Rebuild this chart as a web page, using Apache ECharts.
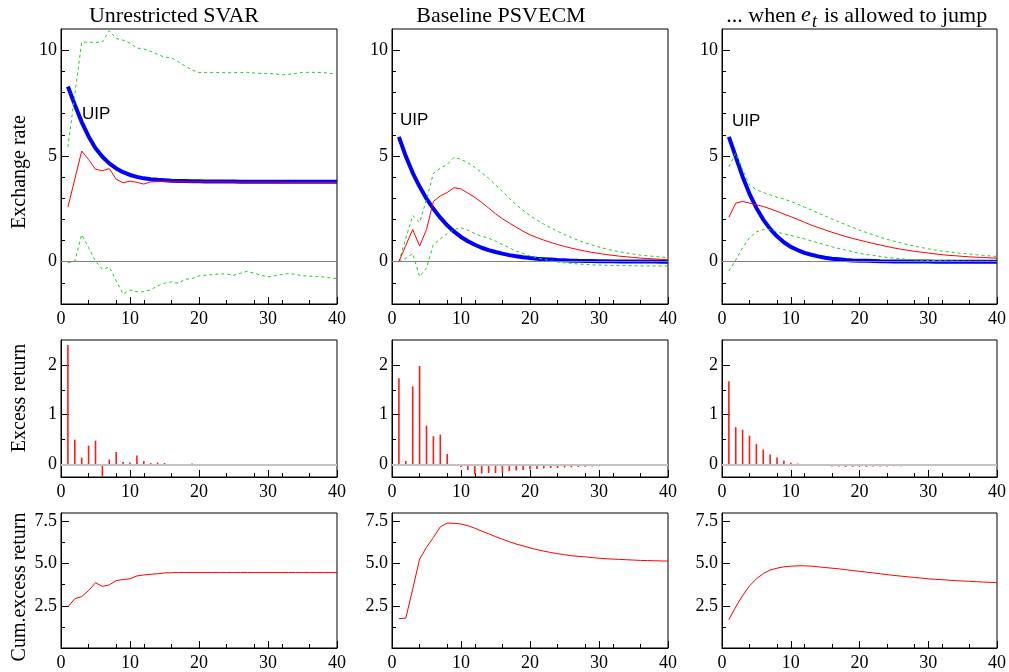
<!DOCTYPE html>
<html><head><meta charset="utf-8">
<script src="https://cdn.jsdelivr.net/npm/echarts@6.0.0/dist/echarts.min.js"></script>
<style>html,body{margin:0;padding:0;background:#fff}#c{width:1009px;height:672px}</style>
</head><body><div id="c"></div>
<script>
// ---------------- data ----------------
const periods = [1,2,3,4,5,6,7,8,9,10,11,12,13,14,15,16,17,18,19,20,21,22,23,24,25,26,27,28,29,30,31,32,33,34,35,36,37,38,39,40];

// Unrestricted SVAR
const svarRate  = [2.58,3.9,5.23,4.83,4.37,4.3,4.4,3.9,3.73,3.81,3.75,3.67,3.77,3.78,3.79,3.78,3.78,3.77,3.77,3.77,3.77,3.77,3.77,3.77,3.76,3.76,3.76,3.76,3.76,3.76,3.76,3.76,3.75,3.75,3.75,3.75,3.75,3.75,3.75,3.75];
const svarUip   = [8.28,7.42,6.6,5.92,5.36,4.96,4.65,4.41,4.23,4.1,4.01,3.94,3.9,3.87,3.85,3.83,3.82,3.81,3.8,3.8,3.79,3.79,3.79,3.79,3.79,3.78,3.78,3.78,3.78,3.78,3.78,3.78,3.78,3.78,3.78,3.78,3.78,3.78,3.78,3.78];
const svarUpper = [5.42,7.9,10.38,10.38,10.36,10.39,10.92,10.55,10.47,10.33,10.1,10.06,9.95,9.8,9.67,9.64,9.45,9.25,9.06,8.94,8.94,8.94,8.94,8.93,8.94,8.94,8.95,8.92,8.9,8.9,8.88,8.83,8.86,8.9,8.95,8.95,8.95,8.94,8.9,8.86];
const svarLower = [-0.05,0.03,1.28,0.66,0.03,-0.36,-0.25,-0.9,-1.53,-1.34,-1.42,-1.42,-1.33,-1.14,-1.02,-0.95,-1.02,-0.83,-0.8,-0.67,-0.64,-0.61,-0.58,-0.58,-0.64,-0.55,-0.45,-0.55,-0.64,-0.72,-0.66,-0.61,-0.56,-0.6,-0.67,-0.68,-0.7,-0.72,-0.77,-0.8];
const svarExcess = [2.4,0.5,0.14,0.38,0.48,-0.25,0.1,0.25,0.05,0.04,0.18,0.07,0.03,0.04,0.03,0.01,0.01,0.005,0.02,0,0,0,0,0,0,0,0,0,0,0,0,0,0,0,0,0,0.01,0.01,0.01,0];
const svarCum    = [2.44,2.92,3.05,3.4,3.87,3.65,3.74,3.99,4.06,4.1,4.27,4.33,4.37,4.4,4.45,4.46,4.47,4.47,4.47,4.47,4.47,4.47,4.47,4.47,4.47,4.47,4.47,4.47,4.47,4.47,4.47,4.47,4.47,4.47,4.47,4.47,4.47,4.47,4.47,4.47];

// Baseline PSVECM
const baseRate  = [0,0.77,1.52,0.74,1.52,2.85,3.11,3.27,3.5,3.44,3.24,3.04,2.8,2.54,2.27,2.03,1.83,1.63,1.44,1.27,1.14,1.02,0.91,0.81,0.72,0.64,0.57,0.5,0.44,0.39,0.34,0.3,0.26,0.23,0.2,0.17,0.15,0.13,0.11,0.09];
const baseUip   = [5.9,4.98,4.2,3.55,2.98,2.5,2.08,1.72,1.42,1.17,0.97,0.8,0.66,0.55,0.46,0.38,0.31,0.26,0.21,0.17,0.14,0.12,0.1,0.08,0.065,0.05,0.04,0.035,0.03,0.02,0.02,0.015,0.01,0.01,0.01,0.005,0.005,0.005,0,0];
const baseUpper = [0,1.1,2.18,1.86,2.93,4.18,4.41,4.6,4.93,4.84,4.68,4.46,4.21,3.94,3.63,3.32,2.99,2.69,2.43,2.18,1.97,1.78,1.6,1.44,1.28,1.14,1.01,0.89,0.79,0.69,0.61,0.53,0.47,0.41,0.36,0.31,0.28,0.25,0.22,0.19];
const baseLower = [0,0.17,0.38,-0.7,-0.3,0.81,1.08,1.33,1.52,1.6,1.49,1.33,1.2,1.11,0.97,0.81,0.66,0.5,0.39,0.27,0.18,0.11,0.04,-0.02,-0.05,-0.08,-0.11,-0.13,-0.15,-0.16,-0.17,-0.18,-0.18,-0.19,-0.19,-0.2,-0.2,-0.2,-0.2,-0.2];
const baseExcess = [1.73,0.07,1.57,1.98,0.78,0.57,0.6,0.21,-0.03,-0.05,-0.11,-0.2,-0.18,-0.17,-0.17,-0.17,-0.13,-0.12,-0.11,-0.1,-0.09,-0.08,-0.07,-0.07,-0.06,-0.055,-0.05,-0.045,-0.04,-0.035,-0.03,-0.03,-0.025,-0.02,-0.02,-0.015,-0.015,-0.01,-0.01,-0.01];
const baseCum    = [1.74,1.77,3.49,5.27,5.97,6.55,7.18,7.4,7.39,7.35,7.25,7.1,6.93,6.77,6.6,6.45,6.3,6.16,6.05,5.93,5.83,5.74,5.66,5.59,5.53,5.47,5.43,5.4,5.36,5.32,5.29,5.27,5.25,5.23,5.21,5.19,5.18,5.17,5.16,5.15];

// ... when e_t is allowed to jump
const jumpRate  = [2.1,2.77,2.85,2.77,2.69,2.61,2.5,2.38,2.25,2.13,2.0,1.86,1.73,1.61,1.5,1.39,1.29,1.19,1.1,1.02,0.94,0.86,0.79,0.72,0.65,0.59,0.54,0.49,0.45,0.41,0.37,0.33,0.3,0.28,0.25,0.23,0.21,0.2,0.18,0.17];
const jumpUip   = [5.9,4.96,4.02,3.21,2.54,1.99,1.55,1.2,0.92,0.7,0.55,0.42,0.33,0.25,0.19,0.14,0.11,0.08,0.06,0.05,0.04,0.03,0.02,0.015,0.01,0.01,0.01,0.005,0.005,0.005,0,0,0,0,0,0,0,0,0,0];
const jumpUpper = [4.49,5.13,4.34,3.63,3.4,3.27,3.16,3.05,2.96,2.85,2.72,2.58,2.44,2.3,2.16,2.02,1.88,1.75,1.62,1.49,1.38,1.27,1.16,1.06,0.97,0.89,0.81,0.74,0.67,0.61,0.55,0.5,0.46,0.42,0.39,0.36,0.33,0.3,0.27,0.25];
const jumpLower = [-0.44,0.08,0.66,1.13,1.41,1.52,1.52,1.41,1.31,1.24,1.16,1.08,0.98,0.89,0.8,0.7,0.62,0.55,0.47,0.39,0.34,0.3,0.25,0.2,0.17,0.14,0.11,0.09,0.07,0.06,0.05,0.04,0.03,0.03,0.02,0.02,0.02,0.02,0.02,0.02];
const jumpExcess = [1.67,0.75,0.7,0.58,0.41,0.3,0.2,0.14,0.08,0.04,0.02,0.005,-0.01,-0.03,-0.03,-0.04,-0.04,-0.045,-0.045,-0.045,-0.045,-0.04,-0.04,-0.04,-0.035,-0.035,-0.03,-0.03,-0.03,-0.025,-0.02,-0.02,-0.02,-0.02,-0.02,-0.015,-0.015,-0.015,-0.015,-0.015];
const jumpCum    = [1.68,2.44,3.11,3.68,4.1,4.41,4.62,4.73,4.81,4.85,4.87,4.87,4.85,4.81,4.77,4.73,4.69,4.64,4.59,4.54,4.5,4.45,4.4,4.35,4.3,4.26,4.22,4.18,4.14,4.1,4.07,4.05,4.02,3.99,3.97,3.95,3.93,3.91,3.89,3.87];

// titles & tick labels
const columnTitles = ['Unrestricted SVAR', 'Baseline PSVECM'];
const rowTitles = ['Exchange rate', 'Excess return', 'Cum.excess return'];
const xMajorTicks = [0,10,20,30,40];
const xMinorTicks = [4,8,12,16,24,28,32,36];
const rateMajor = [0,5,10], rateMinor = [-1,1,2,3,4,6,7,8,9];
const excessMajor = [0,1,2], excessMinor = [0.5,1.5];
const cumMajor = [2.5,5,7.5], cumMinor = [1.25,3.75,6.25];

// ---------------- chart ----------------
const serif = 'Liberation Serif';
const cols = [{left:61,width:276},{left:392,width:276},{left:722,width:277}];
const rows = [
  {top:29,height:275,min:-2,max:11,major:rateMajor,minor:rateMinor,fmt:v=>String(v)},
  {top:340,height:137,min:-0.25,max:2.5,major:excessMajor,minor:excessMinor,fmt:v=>String(v)},
  {top:513,height:138,min:0,max:8,major:cumMajor,minor:cumMinor,fmt:v=>v.toFixed(1)}
];
const panels = [
  {rate:svarRate, uip:svarUip, up:svarUpper, lo:svarLower, ex:svarExcess, cum:svarCum, uipLabel:[3.05,6.97]},
  {rate:baseRate, uip:baseUip, up:baseUpper, lo:baseLower, ex:baseExcess, cum:baseCum, uipLabel:[1.16,6.69]},
  {rate:jumpRate, uip:jumpUip, up:jumpUpper, lo:jumpLower, ex:jumpExcess, cum:jumpCum, uipLabel:[1.45,6.62]}
];
const pair = arr => periods.map((p,i)=>[p, arr[i]]);

const grid=[], xAxis=[], yAxis=[], series=[];
rows.forEach((r,ri)=>{
  cols.forEach((c,ci)=>{
    const gi = ri*3+ci;
    grid.push({left:c.left, top:r.top, width:c.width, height:r.height, show:true, borderColor:'#000', borderWidth:1, backgroundColor:'transparent'});
    xAxis.push({gridIndex:gi, type:'value', min:0, max:40, position:'bottom',
      axisLine:{show:true, onZero:false, lineStyle:{color:'#000', width:1}},
      axisTick:{show:true, inside:true, length:7, lineStyle:{color:'#000', width:1}, customValues:xMajorTicks},
      axisLabel:{show:true, customValues:xMajorTicks, fontFamily:serif, fontSize:18, color:'#000', margin:6},
      splitLine:{show:false}});
    xAxis.push({gridIndex:gi, type:'value', min:0, max:40, position:'bottom',
      axisLine:{show:false, onZero:false},
      axisTick:{show:true, inside:true, length:4, lineStyle:{color:'#000', width:1}, customValues:xMinorTicks},
      axisLabel:{show:false}, splitLine:{show:false}});
    yAxis.push({gridIndex:gi, type:'value', min:r.min, max:r.max, position:'left',
      axisLine:{show:true, onZero:false, lineStyle:{color:'#000', width:1}},
      axisTick:{show:true, inside:true, length:8, lineStyle:{color:'#000', width:1}, customValues:r.major},
      axisLabel:{show:true, customValues:r.major, formatter:r.fmt, fontFamily:serif, fontSize:18, color:'#000', margin:4},
      splitLine:{show:false}});
    yAxis.push({gridIndex:gi, type:'value', min:r.min, max:r.max, position:'left',
      axisLine:{show:false, onZero:false},
      axisTick:{show:true, inside:true, length:4, lineStyle:{color:'#000', width:1}, customValues:r.minor},
      axisLabel:{show:false}, splitLine:{show:false}});
    const ax = 2*gi;
    const p = panels[ci];
    if (ri===0) {
      series.push({type:'line', xAxisIndex:ax, yAxisIndex:ax, data:pair(p.uip), showSymbol:false, symbol:'none',
        lineStyle:{color:'#0000ff', width:4}, z:2,
        markLine:{silent:true, symbol:'none', data:[{yAxis:0}], label:{show:false}, lineStyle:{color:'#808080', width:1, type:'solid'}},
        markPoint:{symbol:'circle', symbolSize:0, data:[{coord:p.uipLabel}],
          label:{show:true, formatter:'UIP', position:'right', distance:0, color:'#000', fontFamily:'Liberation Sans', fontSize:17}}});
      series.push({type:'line', xAxisIndex:ax, yAxisIndex:ax, data:pair(p.up), symbol:'none', lineStyle:{color:'#22cc22', width:1, type:[3,3]}, z:3});
      series.push({type:'line', xAxisIndex:ax, yAxisIndex:ax, data:pair(p.lo), symbol:'none', lineStyle:{color:'#22cc22', width:1, type:[3,3]}, z:3});
      series.push({type:'line', xAxisIndex:ax, yAxisIndex:ax, data:pair(p.rate), symbol:'none', lineStyle:{color:'#ff0000', width:1}, z:4});
    } else if (ri===1) {
      series.push({type:'bar', xAxisIndex:ax, yAxisIndex:ax, data:pair(p.ex), barWidth:1.6, itemStyle:{color:'#ff1a1a'},
        markLine:{silent:true, symbol:'none', data:[{yAxis:0}], label:{show:false}, lineStyle:{color:'#c4c4c4', width:2, type:'solid'}}});
    } else {
      series.push({type:'line', xAxisIndex:ax, yAxisIndex:ax, data:pair(p.cum), symbol:'none', lineStyle:{color:'#ff0000', width:1}});
    }
  });
});

const titleFont = '22px "Liberation Serif"';
const graphic = [
  {type:'text', x:174, y:16, style:{text:columnTitles[0], font:titleFont, fill:'#000', textAlign:'center', textVerticalAlign:'middle'}},
  {type:'text', x:501, y:16, style:{text:columnTitles[1], font:titleFont, fill:'#000', textAlign:'center', textVerticalAlign:'middle'}},
  {type:'text', x:796, y:16, style:{text:'... when', font:titleFont, fill:'#000', textAlign:'right', textVerticalAlign:'middle'}},
  {type:'text', x:801, y:15, style:{text:'e', font:'italic 22px "Liberation Serif"', fill:'#000', textAlign:'left', textVerticalAlign:'middle'}},
  {type:'text', x:812, y:22, style:{text:'t', font:'italic 18px "Liberation Serif"', fill:'#000', textAlign:'left', textVerticalAlign:'middle'}},
  {type:'text', x:824, y:16, style:{text:'is allowed to jump', font:titleFont, fill:'#000', textAlign:'left', textVerticalAlign:'middle'}},
  {type:'text', x:20, y:172, rotation:Math.PI/2, style:{text:rowTitles[0], font:'20px "Liberation Serif"', fill:'#000', textAlign:'center', textVerticalAlign:'middle'}},
  {type:'text', x:20, y:398, rotation:Math.PI/2, style:{text:rowTitles[1], font:'20px "Liberation Serif"', fill:'#000', textAlign:'center', textVerticalAlign:'middle'}},
  {type:'text', x:20, y:587, rotation:Math.PI/2, style:{text:rowTitles[2], font:'20px "Liberation Serif"', fill:'#000', textAlign:'center', textVerticalAlign:'middle'}}
];

const chart = echarts.init(document.getElementById('c'), null, {renderer:'canvas'});
chart.setOption({animation:false, backgroundColor:'#fff', grid, xAxis, yAxis, series, graphic});
</script></body></html>
